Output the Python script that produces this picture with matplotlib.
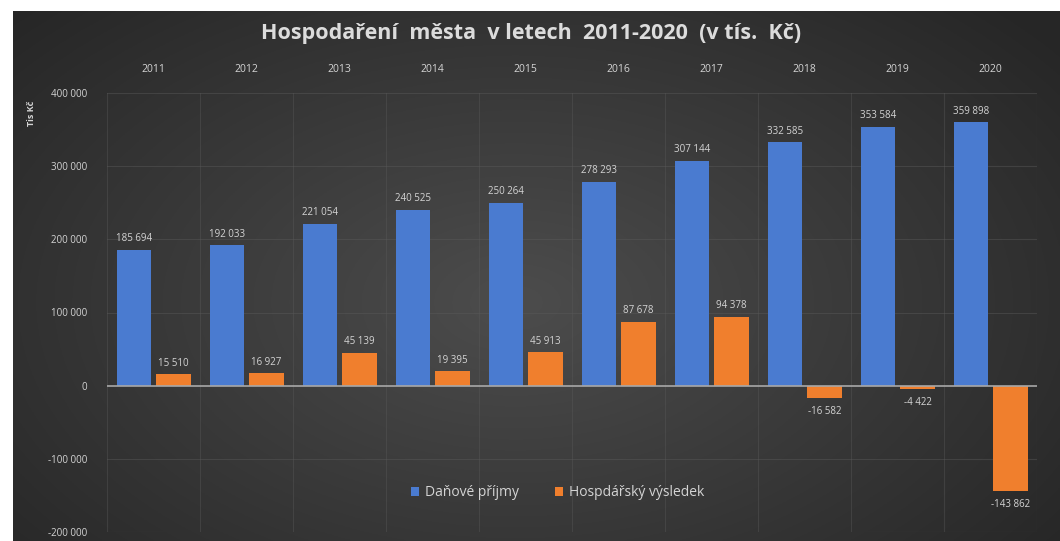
import numpy as np
import matplotlib
matplotlib.use('Agg')
import matplotlib.pyplot as plt
from matplotlib.ticker import FuncFormatter

years = ['2011', '2012', '2013', '2014', '2015', '2016', '2017', '2018', '2019', '2020']
prijmy = [185694, 192033, 221054, 240525, 250264, 278293, 307144, 332585, 353584, 359898]
vysledek = [15510, 16927, 45139, 19395, 45913, 87678, 94378, -16582, -4422, -143862]

BLUE = '#4a7bd0'
ORANGE = '#f07f2d'
TXT = '#d4d4d4'

plt.rcParams['font.family'] = ['Open Sans', 'DejaVu Sans']

fig = plt.figure(figsize=(10.6, 5.41), dpi=100)
fig.patch.set_facecolor('white')

# tmave pozadi s radialnim prechodem
bg = fig.add_axes([13/1060, 0, 1047/1060, 530/541])
yy, xx = np.mgrid[0:1:300j, 0:1:600j]
r = np.sqrt(((xx - 0.48) / 0.75) ** 2 + ((yy - 0.55) / 0.9) ** 2)
shade = np.clip(0.30 - 0.17 * r, 0.15, 0.30)
bg.imshow(np.dstack([shade, shade, shade]), aspect='auto', extent=[0, 1, 0, 1])
bg.set_axis_off()

ax = fig.add_axes([107/1060, 9/541, 930/1060, 439/541])
ax.set_facecolor('none')
x = np.arange(len(years))
w = 0.37
b1 = ax.bar(x - 0.21, prijmy, w, color=BLUE, label='Daňové příjmy', zorder=3)
b2 = ax.bar(x + 0.215, vysledek, w, color=ORANGE, label='Hospdářský výsledek', zorder=3)

fmt = lambda v: f'{v:,}'.replace(',', ' ')
for bars, vals in ((b1, prijmy), (b2, vysledek)):
    for rect, v in zip(bars, vals):
        cx = rect.get_x() + rect.get_width() / 2
        ax.annotate(fmt(v), (cx, v), xytext=(0, 4 if v >= 0 else -6),
                    textcoords='offset points', ha='center',
                    va='bottom' if v >= 0 else 'top', fontsize=7, color=TXT)

ax.set_xlim(-0.5, 9.5)
ax.set_ylim(-200000, 400000)
ax.set_yticks(np.arange(-200000, 400001, 100000))
ax.yaxis.set_major_formatter(FuncFormatter(lambda v, p: fmt(int(v))))
ax.xaxis.tick_top()
ax.set_xticks(x)
ax.set_xticklabels(years)
ax.tick_params(axis='x', length=0, pad=13, labelsize=7.5, colors=TXT)
ax.tick_params(axis='y', length=0, pad=14, labelsize=7, colors=TXT)

for yv in np.arange(-200000, 400001, 100000):
    if yv != 0:
        ax.axhline(yv, color='#5a5a5a', lw=0.8, alpha=0.45, zorder=1)
for xv in np.arange(-0.5, 10, 1):
    ax.axvline(xv, color='#5a5a5a', lw=0.8, alpha=0.4, zorder=1)
ax.axhline(0, color='#a8a8a8', lw=1.2, zorder=4)
for s in ax.spines.values():
    s.set_visible(False)

fig.text(0.501, 0.938, 'Hospodaření  města  v letech  2011-2020  (v tís.  Kč)',
         ha='center', va='center', fontsize=15.5, fontweight='bold', color='#dcdcdc')
fig.text(0.030, 0.79, 'Tis Kč', rotation=90, ha='center', va='center',
         fontsize=6.5, fontweight='bold', color=TXT)

leg = fig.legend(loc='center', bbox_to_anchor=(0.526, 0.089), ncol=2, frameon=False,
                 fontsize=10, handlelength=0.6, handleheight=0.6, columnspacing=2.6,
                 handletextpad=0.4)
for t in leg.get_texts():
    t.set_color(TXT)

fig.savefig('out.png', dpi=100)
